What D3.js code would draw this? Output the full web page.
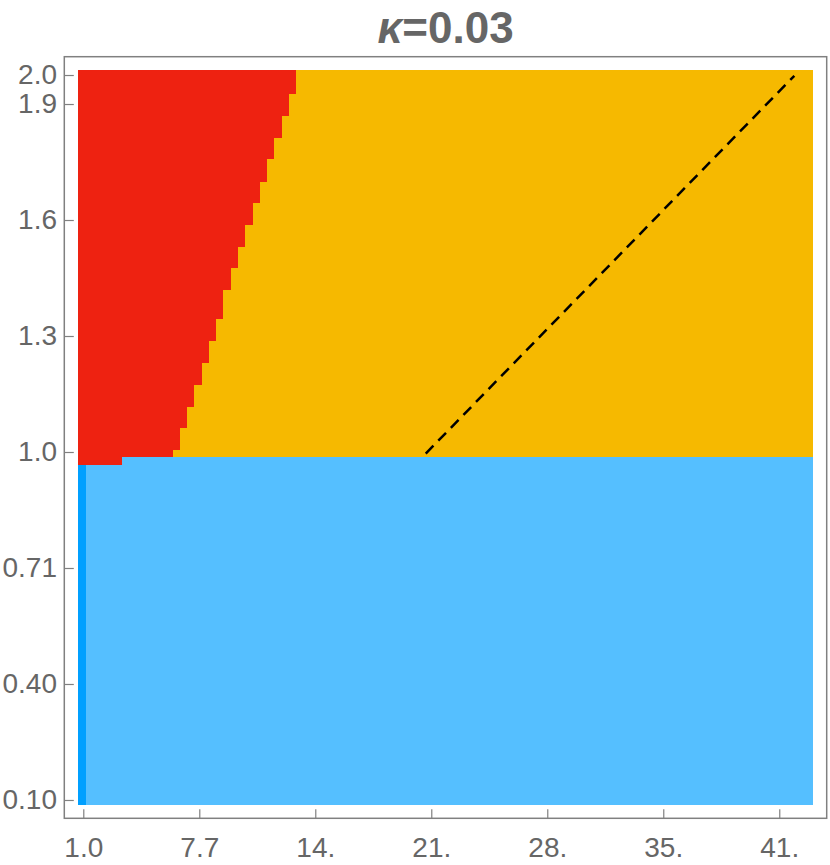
<!DOCTYPE html>
<html>
<head>
<meta charset="utf-8">
<script src="https://cdn.jsdelivr.net/npm/d3@7"></script>
<style>
  body { margin: 0; background: #fff; }
  text { font-family: "Liberation Sans", Arial, sans-serif; fill: #666; }
</style>
</head>
<body>
<div id="chart"></div>
<script>
// Plot limits (frame) and sampled region extent
const xFrame = [-0.097, 43.94];
const yFrame = [0.052, 2.048];
const xCells = [0.71, 43.14];
const yCells = [0.087, 2.013];

// Boundary between red and yellow: row breaks (top to bottom) and x where red ends
const redRowY = [2.013, 1.950, 1.892, 1.835, 1.779, 1.720, 1.664, 1.607, 1.550, 1.493,
                 1.436, 1.360, 1.302, 1.246, 1.188, 1.131, 1.074, 1.017, 0.998, 0.979];
const redRowEnd = [13.29, 12.87, 12.46, 12.03, 11.61, 11.19, 10.79, 10.36, 9.94, 9.52,
                   9.09, 8.68, 8.26, 7.84, 7.41, 7.01, 6.59, 6.16, 3.24];

// Lower (blue) region: top edge, plus darker strip near x = 1
const blueTop = 0.998;
const darkStripX = [0.71, 1.16];
const darkStripTop = 0.979;

// Dashed line
const dashX = [20.78, 42.07];
const dashY = [1.008, 1.998];

// Ticks
const xTicks = [1, 7.7, 14.4, 21.1, 27.8, 34.5, 41.2];
const xTickLabels = ["1.0", "7.7", "14.", "21.", "28.", "35.", "41."];
const yTicks = [0.1, 0.404, 0.708, 1.012, 1.316, 1.62, 1.924, 2.0];
const yTickLabels = ["0.10", "0.40", "0.71", "1.0", "1.3", "1.6", "1.9", "2.0"];

const colors = { red: "#ee2211", yellow: "#f6b900", blue: "#55bfff", darkBlue: "#00a0ff" };

const W = 830, H = 865;
const margin = { top: 56.7, right: 3.3, bottom: 46.7, left: 64.3 };
const width = W - margin.left - margin.right;
const height = H - margin.top - margin.bottom;

const svg = d3.select("#chart").append("svg")
  .attr("width", W)
  .attr("height", H);

const g = svg.append("g")
  .attr("transform", `translate(${margin.left},${margin.top})`);

const x = d3.scaleLinear().domain(xFrame).range([0, width]);
const y = d3.scaleLinear().domain(yFrame).range([height, 0]);

// helper for a data-space rectangle
function cell(x0, x1, y0, y1, fill) {
  g.append("rect")
    .attr("x", x(x0))
    .attr("y", y(y1))
    .attr("width", x(x1) - x(x0))
    .attr("height", y(y0) - y(y1))
    .attr("fill", fill)
    .attr("shape-rendering", "crispEdges");
}

// Yellow upper region and blue lower region
cell(xCells[0], xCells[1], blueTop, yCells[1], colors.yellow);
cell(xCells[0], xCells[1], yCells[0], blueTop, colors.blue);

// Red steps
redRowEnd.forEach((xe, i) => {
  cell(xCells[0], xe, redRowY[i + 1], redRowY[i], colors.red);
});

// Dark blue strip
cell(darkStripX[0], darkStripX[1], yCells[0], darkStripTop, colors.darkBlue);

// Dashed line
g.append("line")
  .attr("x1", x(dashX[0]))
  .attr("y1", y(dashY[0]))
  .attr("x2", x(dashX[1]))
  .attr("y2", y(dashY[1]))
  .attr("stroke", "#000")
  .attr("stroke-width", 2.5)
  .attr("stroke-dasharray", "11,7");

// Frame
g.append("rect")
  .attr("width", width)
  .attr("height", height)
  .attr("fill", "none")
  .attr("stroke", "#808080")
  .attr("stroke-width", 1.5);

// Axes
const xAxis = g.append("g")
  .attr("transform", `translate(0,${height})`)
  .call(d3.axisBottom(x).tickValues(xTicks)
    .tickFormat((d, i) => xTickLabels[i])
    .tickSize(-9).tickPadding(18.4));

const yAxis = g.append("g")
  .call(d3.axisLeft(y).tickValues(yTicks)
    .tickFormat((d, i) => yTickLabels[i])
    .tickSize(-9.5).tickPadding(7.3));

[xAxis, yAxis].forEach(a => {
  a.select(".domain").remove();
  a.selectAll(".tick line").attr("stroke", "#808080").attr("stroke-width", 1.2);
  a.selectAll(".tick text")
    .attr("font-size", 28)
    .attr("font-family", "Liberation Sans, Arial, sans-serif")
    .attr("fill", "#666");
});

// Title
const title = svg.append("text")
  .attr("x", margin.left + width / 2)
  .attr("y", 43.3)
  .attr("text-anchor", "middle")
  .attr("font-size", 44)
  .attr("font-weight", "bold");
title.append("tspan").attr("font-style", "italic").text("κ");
title.append("tspan").text("=0.03");
</script>
</body>
</html>
